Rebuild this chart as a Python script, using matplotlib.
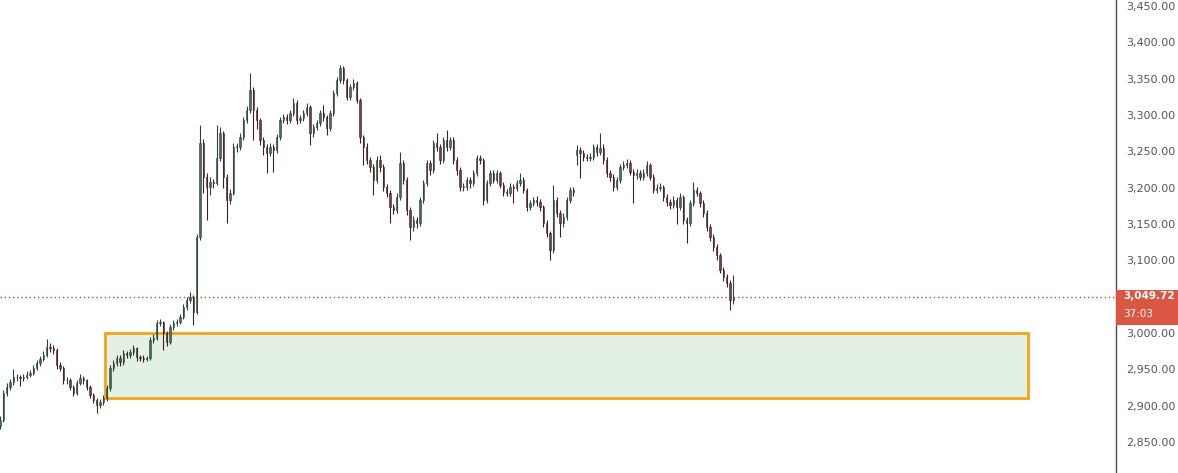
import matplotlib.pyplot as plt
import matplotlib.transforms as mtransforms
from matplotlib.patches import Rectangle
import numpy as np

# candle data (one candle per bar)
opens = [2872, 2880, 2917, 2926, 2932, 2939, 2939, 2938, 2939, 2942,
         2945, 2952, 2959, 2964, 2970, 2981, 2979, 2977, 2956, 2952,
         2935, 2935, 2926, 2917, 2931, 2938, 2935, 2926, 2915, 2908,
         2901, 2905, 2910, 2924, 2952, 2959, 2966, 2960, 2972, 2970,
         2974, 2979, 2967, 2966, 2964, 2966, 2990, 2993, 3014, 3015,
         3000, 2988, 3008, 3014, 3015, 3022, 3036, 3045, 3050, 3029,
         3132, 3261, 3215, 3201, 3208, 3206, 3241, 3275, 3215, 3183,
         3193, 3256, 3256, 3270, 3293, 3307, 3334, 3307, 3293, 3266,
         3256, 3248, 3256, 3252, 3270, 3293, 3297, 3293, 3303, 3317,
         3293, 3296, 3303, 3311, 3275, 3283, 3289, 3303, 3297, 3282,
         3303, 3330, 3348, 3365, 3348, 3325, 3339, 3344, 3321, 3270,
         3256, 3238, 3228, 3211, 3238, 3228, 3201, 3193, 3173, 3169,
         3187, 3234, 3211, 3169, 3146, 3156, 3151, 3183, 3206, 3234,
         3224, 3261, 3256, 3238, 3266, 3256, 3266, 3238, 3224, 3201,
         3201, 3211, 3206, 3220, 3241, 3238, 3183, 3206, 3220, 3211,
         3220, 3204, 3194, 3193, 3201, 3200, 3206, 3211, 3197, 3173,
         3179, 3183, 3180, 3173, 3151, 3138, 3114, 3183, 3165, 3151,
         3160, 3183, 3197, 3245, 3252, 3248, 3242, 3241, 3242, 3256,
         3249, 3255, 3238, 3220, 3215, 3201, 3211, 3228, 3231, 3234,
         3222, 3217, 3220, 3215, 3220, 3231, 3215, 3197, 3200, 3201,
         3187, 3180, 3176, 3183, 3173, 3187, 3156, 3151, 3179, 3197,
         3193, 3179, 3165, 3146, 3132, 3118, 3107, 3087, 3077, 3069,
         3045]
closes = [2880, 2917, 2926, 2932, 2939, 2939, 2938, 2939, 2942, 2945,
          2952, 2959, 2964, 2970, 2981, 2979, 2977, 2956, 2952, 2935,
          2935, 2926, 2917, 2931, 2938, 2935, 2926, 2915, 2908, 2901,
          2905, 2910, 2924, 2952, 2959, 2966, 2960, 2972, 2970, 2974,
          2979, 2967, 2966, 2964, 2966, 2990, 2993, 3014, 3015, 3000,
          2988, 3008, 3014, 3015, 3022, 3036, 3045, 3050, 3029, 3132,
          3261, 3215, 3201, 3208, 3206, 3241, 3275, 3215, 3183, 3193,
          3256, 3256, 3270, 3293, 3307, 3334, 3307, 3293, 3266, 3256,
          3248, 3256, 3252, 3270, 3293, 3297, 3293, 3303, 3317, 3293,
          3296, 3303, 3311, 3275, 3283, 3289, 3303, 3297, 3282, 3303,
          3330, 3348, 3365, 3348, 3325, 3339, 3344, 3321, 3270, 3256,
          3238, 3228, 3211, 3238, 3228, 3201, 3193, 3173, 3169, 3187,
          3234, 3211, 3169, 3146, 3156, 3151, 3183, 3206, 3234, 3224,
          3261, 3256, 3238, 3266, 3256, 3266, 3238, 3224, 3201, 3201,
          3211, 3206, 3220, 3241, 3238, 3183, 3206, 3220, 3211, 3220,
          3204, 3194, 3193, 3201, 3200, 3206, 3211, 3197, 3173, 3179,
          3183, 3180, 3173, 3151, 3138, 3114, 3183, 3165, 3151, 3160,
          3183, 3197, 3194, 3252, 3248, 3242, 3241, 3242, 3256, 3249,
          3255, 3238, 3220, 3215, 3201, 3211, 3228, 3231, 3234, 3222,
          3217, 3220, 3215, 3220, 3231, 3215, 3197, 3200, 3201, 3187,
          3180, 3176, 3183, 3173, 3187, 3156, 3151, 3179, 3197, 3193,
          3179, 3165, 3146, 3132, 3118, 3107, 3087, 3077, 3069, 3045,
          3049.72]
highs = [2886, 2921, 2931, 2936, 2951, 2944, 2942, 2944, 2947, 2949,
         2956, 2963, 2968, 2975, 2992, 2986, 2983, 2979, 2960, 2955,
         2940, 2938, 2929, 2935, 2943, 2941, 2937, 2929, 2918, 2911,
         2909, 2914, 2928, 2956, 2963, 2970, 2969, 2976, 2975, 2978,
         2983, 2981, 2970, 2969, 2968, 2994, 2998, 3018, 3019, 3017,
         3003, 3012, 3018, 3019, 3026, 3040, 3050, 3056, 3052, 3136,
         3286, 3267, 3220, 3214, 3212, 3286, 3283, 3278, 3219, 3198,
         3261, 3262, 3275, 3297, 3312, 3358, 3338, 3311, 3296, 3270,
         3260, 3262, 3260, 3274, 3297, 3302, 3301, 3307, 3323, 3320,
         3300, 3307, 3316, 3314, 3288, 3293, 3307, 3314, 3300, 3307,
         3334, 3352, 3369, 3367, 3351, 3343, 3350, 3347, 3324, 3273,
         3262, 3242, 3232, 3243, 3245, 3232, 3205, 3197, 3178, 3192,
         3249, 3238, 3214, 3173, 3161, 3160, 3187, 3210, 3238, 3238,
         3265, 3275, 3260, 3270, 3279, 3270, 3269, 3242, 3228, 3206,
         3215, 3215, 3224, 3245, 3245, 3241, 3210, 3224, 3224, 3224,
         3223, 3208, 3198, 3206, 3205, 3210, 3220, 3214, 3200, 3183,
         3187, 3188, 3184, 3176, 3155, 3141, 3204, 3187, 3169, 3165,
         3187, 3201, 3201, 3258, 3256, 3252, 3246, 3247, 3260, 3260,
         3275, 3260, 3242, 3224, 3219, 3215, 3232, 3236, 3239, 3238,
         3226, 3225, 3224, 3225, 3237, 3234, 3219, 3205, 3206, 3204,
         3191, 3185, 3189, 3187, 3192, 3190, 3160, 3183, 3208, 3201,
         3196, 3183, 3169, 3150, 3136, 3122, 3110, 3091, 3081, 3073,
         3080]
lows = [2868, 2877, 2913, 2922, 2929, 2934, 2927, 2934, 2936, 2939,
        2942, 2949, 2955, 2961, 2967, 2974, 2971, 2951, 2947, 2930,
        2930, 2922, 2913, 2914, 2928, 2930, 2921, 2910, 2903, 2890,
        2897, 2901, 2906, 2920, 2948, 2955, 2955, 2956, 2965, 2966,
        2970, 2962, 2961, 2960, 2961, 2963, 2986, 2990, 3009, 2977,
        2982, 2985, 3004, 3010, 3012, 3019, 3032, 3041, 3011, 3026,
        3128, 3192, 3155, 3190, 3200, 3203, 3236, 3200, 3151, 3178,
        3190, 3249, 3252, 3266, 3289, 3303, 3266, 3280, 3258, 3245,
        3220, 3243, 3222, 3248, 3266, 3289, 3287, 3289, 3299, 3288,
        3289, 3292, 3299, 3259, 3270, 3279, 3285, 3292, 3272, 3278,
        3299, 3326, 3344, 3342, 3320, 3320, 3334, 3316, 3262, 3231,
        3232, 3222, 3190, 3207, 3222, 3195, 3187, 3151, 3164, 3165,
        3183, 3205, 3163, 3128, 3141, 3145, 3147, 3179, 3202, 3218,
        3220, 3250, 3232, 3234, 3251, 3252, 3232, 3218, 3195, 3196,
        3197, 3200, 3202, 3216, 3232, 3176, 3179, 3202, 3206, 3207,
        3199, 3189, 3188, 3189, 3179, 3196, 3202, 3192, 3168, 3169,
        3175, 3175, 3168, 3146, 3132, 3100, 3110, 3160, 3132, 3146,
        3156, 3179, 3189, 3231, 3213, 3237, 3236, 3237, 3238, 3244,
        3245, 3232, 3214, 3209, 3195, 3197, 3207, 3224, 3227, 3217,
        3179, 3212, 3210, 3211, 3216, 3210, 3192, 3193, 3195, 3182,
        3175, 3171, 3172, 3150, 3169, 3150, 3124, 3147, 3175, 3188,
        3174, 3160, 3141, 3127, 3113, 3101, 3082, 3072, 3063, 3032,
        3040]

zone_top = 3000
zone_bottom = 2910
zone_start = 31.5
zone_end = 308.4
last_price = 3049.72
countdown = '37:03'
price_ticks = list(range(2850, 3451, 50))

UP_FACE, UP_EDGE = '#4a6a5b', '#2a4236'
DOWN_FACE, DOWN_EDGE = '#6a4646', '#3e2020'
TAG_RED = '#da5843'

fig = plt.figure(figsize=(11.78, 4.73), dpi=100)
ax = fig.add_axes([0, 0, 1116 / 1178, 1])

o = np.array(opens, dtype=float)
c = np.array(closes, dtype=float)
h = np.array(highs, dtype=float)
l = np.array(lows, dtype=float)
x = np.arange(len(c))
up = c >= o

# demand zone
ax.add_patch(Rectangle((zone_start, zone_bottom), zone_end - zone_start,
                       zone_top - zone_bottom, facecolor='#e2f1e4',
                       edgecolor='#f2a31b', linewidth=2, zorder=1))

# wicks + bodies
ax.vlines(x[up], l[up], h[up], color=UP_EDGE, linewidth=0.8, zorder=2)
ax.vlines(x[~up], l[~up], h[~up], color=DOWN_EDGE, linewidth=0.8, zorder=2)
body = np.maximum(np.abs(c - o), 0.8)
bottom = np.minimum(o, c)
ax.bar(x[up], body[up], bottom=bottom[up], width=0.45, color=UP_FACE,
       edgecolor=UP_EDGE, linewidth=0.4, zorder=3)
ax.bar(x[~up], body[~up], bottom=bottom[~up], width=0.45, color=DOWN_FACE,
       edgecolor=DOWN_EDGE, linewidth=0.4, zorder=3)

# last price line
ax.axhline(last_price, color='#c9483a', linestyle=(0, (1, 2)), linewidth=1, zorder=1)

ax.set_xlim(0, 334.8)
ax.set_ylim(2807.3, 3458.2)

for s in ['top', 'left', 'bottom']:
    ax.spines[s].set_visible(False)
ax.spines['right'].set_color('#4a4a4a')
ax.spines['right'].set_linewidth(1)
ax.set_xticks([])
ax.yaxis.tick_right()
ax.set_yticks(price_ticks)
ax.set_yticklabels([f'{p:,.2f}' for p in price_ticks])
ax.tick_params(axis='y', length=0, pad=7, labelsize=8, labelcolor='#555555')

# price tag on the axis
trans = mtransforms.blended_transform_factory(ax.transAxes, ax.transData)
ax.add_patch(Rectangle((1.0, last_price - 38.7), 0.06, 48.2, transform=trans,
                       facecolor=TAG_RED, edgecolor='none', clip_on=False, zorder=5))
ax.text(1.0 + 7 / 1116, last_price + 1, f'{last_price:,.2f}', transform=trans,
        color='white', fontsize=7.5, fontweight='bold', va='center', ha='left',
        zorder=6, clip_on=False)
ax.text(1.0 + 7 / 1116, last_price - 23, countdown, transform=trans,
        color='white', fontsize=7.5, va='center', ha='left', zorder=6, clip_on=False)

fig.savefig('out.png', dpi=100)
